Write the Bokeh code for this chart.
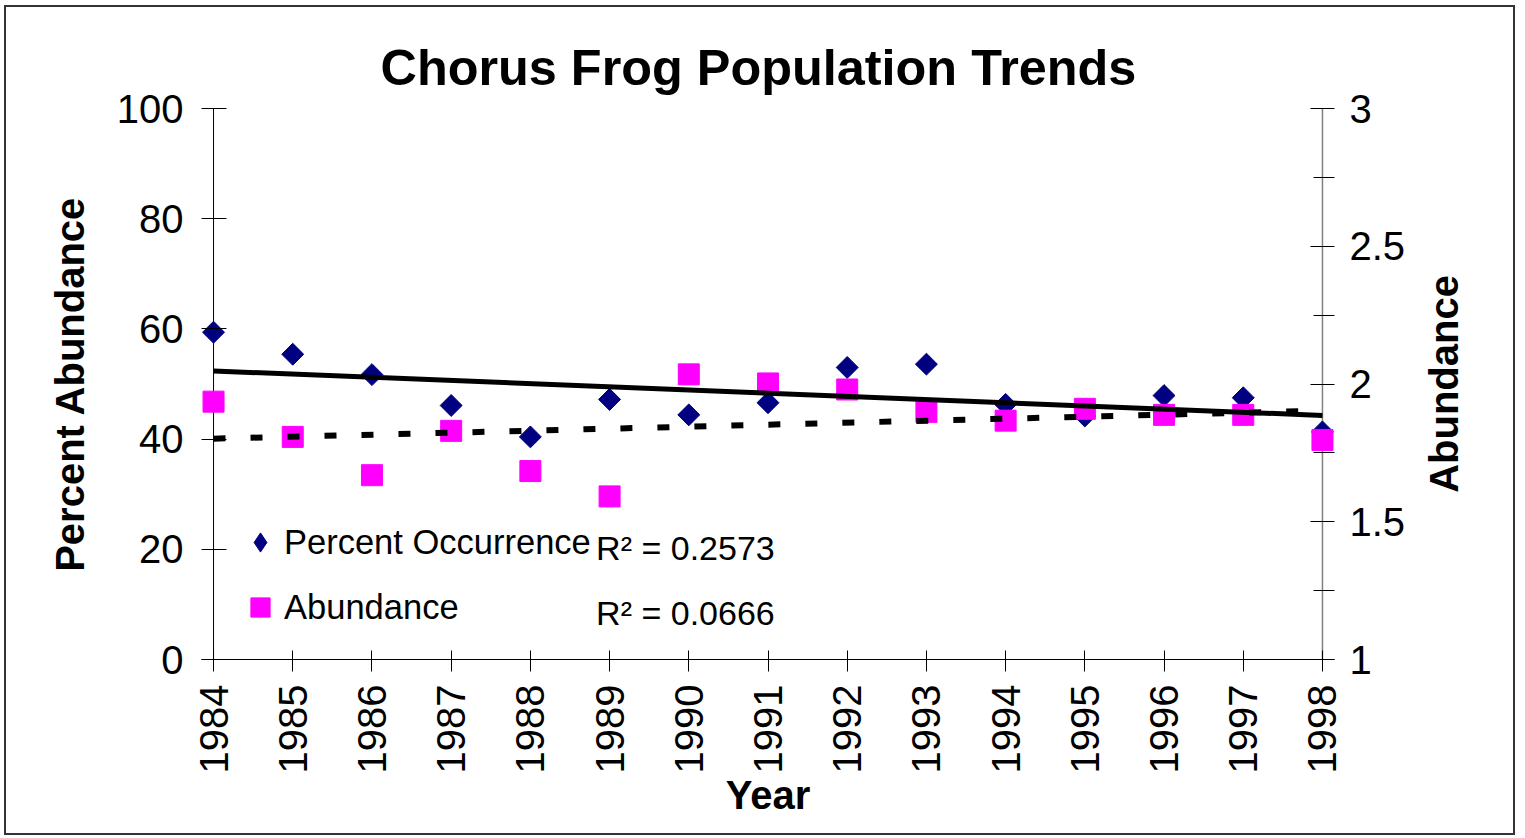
import numpy as np
from bokeh.plotting import figure
from bokeh.models import (Range1d, LinearAxis, FixedTicker, NumeralTickFormatter,
                          Legend, LegendItem, Label, Span)
from bokeh.embed import file_html
from bokeh.resources import INLINE

# ---- data ----
years = [1984, 1985, 1986, 1987, 1988, 1989, 1990, 1991, 1992, 1993, 1994, 1995, 1996, 1997, 1998]
percent_occurrence = [59.4, 55.4, 51.7, 46.1, 40.4, 47.2, 44.4, 46.6, 53.0, 53.6, 46.3, 44.2, 47.9, 47.5, 41.3]
abundance = [1.936, 1.808, 1.669, 1.830, 1.684, 1.592, 2.035, 2.002, 1.980, 1.899, 1.867, 1.910, 1.888, 1.888, 1.797]
left_ticks = [0, 20, 40, 60, 80, 100]
right_ticks = [1, 1.5, 2, 2.5, 3]
right_minor = [1.25, 1.75, 2.25, 2.75]
r2_occurrence = "R\u00b2 = 0.2573"
r2_abundance = "R\u00b2 = 0.0666"

FONT = "Liberation Sans"
PAD = 0.152  # years of padding so edge markers are not clipped

W, H = 1511, 830
p = figure(width=W, height=H, output_backend="svg", toolbar_location=None,
           x_range=Range1d(years[0] - PAD, years[-1] + PAD), y_range=Range1d(0, 100),
           min_border_left=195, min_border_right=183, min_border_top=101, min_border_bottom=178,
           title="Chorus Frog Population Trends")
p.styles = {"border": "2px solid #333333", "margin-left": "4px", "margin-top": "5px"}
p.background_fill_color = "white"
p.border_fill_color = "white"
p.outline_line_color = None
p.xgrid.visible = False
p.ygrid.visible = False

p.title.text_font = FONT
p.title.text_font_size = "50.4px"
p.title.text_font_style = "bold"
p.title.text_color = "black"
p.title.align = "left"
p.title.offset = 179
p.title.standoff = 26

p.extra_y_ranges = {"abund": Range1d(1, 3)}

# bottom axis
xa = p.xaxis[0]
xa.ticker = FixedTicker(ticks=years)
xa.major_label_orientation = np.pi / 2
xa.major_label_text_font = FONT
xa.major_label_text_font_size = "40px"
xa.major_label_text_color = "black"
xa.major_label_standoff = 13
xa.major_tick_in = 9
xa.major_tick_out = 12
xa.minor_tick_line_color = None
xa.axis_line_color = "black"
xa.major_tick_line_color = "black"
xa.axis_label = "Year"
xa.axis_label_text_font = FONT
xa.axis_label_text_font_size = "40px"
xa.axis_label_text_font_style = "bold"
xa.axis_label_text_color = "black"
xa.axis_label_standoff = -3

# left axis (axis line drawn as a span at the first year; ticks straddle it)
ya = p.yaxis[0]
ya.ticker = FixedTicker(ticks=left_ticks)
ya.major_label_text_font = FONT
ya.major_label_text_font_size = "40px"
ya.major_label_text_color = "black"
ya.major_label_standoff = 18
ya.major_tick_in = 25
ya.major_tick_out = 0
ya.minor_tick_line_color = None
ya.axis_line_color = None
ya.major_tick_line_color = "black"
ya.axis_label = "Percent Abundance"
ya.axis_label_text_font = FONT
ya.axis_label_text_font_size = "40px"
ya.axis_label_text_font_style = "bold"
ya.axis_label_text_color = "black"
ya.axis_label_standoff = 22

# right axis
ra = LinearAxis(y_range_name="abund",
                ticker=FixedTicker(ticks=right_ticks, minor_ticks=right_minor),
                formatter=NumeralTickFormatter(format="0.[0]"))
ra.major_label_text_font = FONT
ra.major_label_text_font_size = "40px"
ra.major_label_text_color = "black"
ra.major_label_standoff = 15
ra.major_tick_in = 24
ra.major_tick_out = 0
ra.minor_tick_in = 21
ra.minor_tick_out = 0
ra.axis_line_color = None
ra.major_tick_line_color = "black"
ra.minor_tick_line_color = "black"
ra.axis_label_text_font = FONT
ra.axis_label_text_font_size = "40px"
ra.axis_label_text_font_style = "bold"
ra.axis_label_text_color = "black"
ra.axis_label_standoff = 36
if "axis_label_orientation" in ra.properties():
    # read bottom-to-top; the label starts at the bottom of the axis, so it is
    # lifted to the middle with leading no-break spaces
    ra.axis_label = "\u00a0" * 15 + "Abundance"
    ra.axis_label_orientation = np.pi / 2
    ra.axis_label_align = "start"
else:
    ra.axis_label = "Abundance"
p.add_layout(ra, "right")

p.add_layout(Span(location=years[0], dimension="height", line_color="black", line_width=1,
                  level="underlay"))
p.add_layout(Span(location=years[-1], dimension="height", line_color="#808080", line_width=1.5,
                  level="underlay"))

# markers
r_occ = p.scatter(years, percent_occurrence, marker="square", angle=np.pi / 4, size=15.5,
                  fill_color="#000080", line_color="#000080")
r_ab = p.scatter(years, abundance, marker="square", size=21, y_range_name="abund",
                 fill_color="#FF00FF", line_color="#FF00FF")
# legend swatch for the diamonds (not drawn in the plot: NaN point)
r_occ_key = p.scatter([np.nan], [np.nan], marker="diamond", size=20,
                      fill_color="#000080", line_color="#000080")

# linear trend lines
x_arr = np.array(years, dtype=float)
c1 = np.polyfit(x_arr, np.array(percent_occurrence), 1)
c2 = np.polyfit(x_arr, np.array(abundance), 1)
xe = np.array([years[0], years[-1]], dtype=float)
p.line(xe, np.polyval(c2, xe), y_range_name="abund", line_color="black", line_width=6,
       line_dash="12 25")
p.line(xe, np.polyval(c1, xe), line_color="black", line_width=5)

# legend
legend = Legend(items=[LegendItem(label="Percent Occurrence", renderers=[r_occ_key]),
                       LegendItem(label="Abundance", renderers=[r_ab])],
                location=(35, 28), orientation="vertical",
                glyph_width=48, glyph_height=48, label_height=46, spacing=17,
                label_standoff=0, padding=0, margin=0,
                border_line_color=None, background_fill_alpha=0,
                label_text_font=FONT, label_text_font_size="34.5px", label_text_color="black")
p.add_layout(legend, "center")

# R^2 labels
p.add_layout(Label(x=1988.83, y=20.3, text=r2_occurrence, text_font=FONT, text_font_size="34px",
                   text_color="black", text_baseline="middle"))
p.add_layout(Label(x=1988.83, y=8.4, text=r2_abundance, text_font=FONT, text_font_size="34px",
                   text_color="black", text_baseline="middle"))

open("out.html", "w").write(file_html(p, INLINE))
